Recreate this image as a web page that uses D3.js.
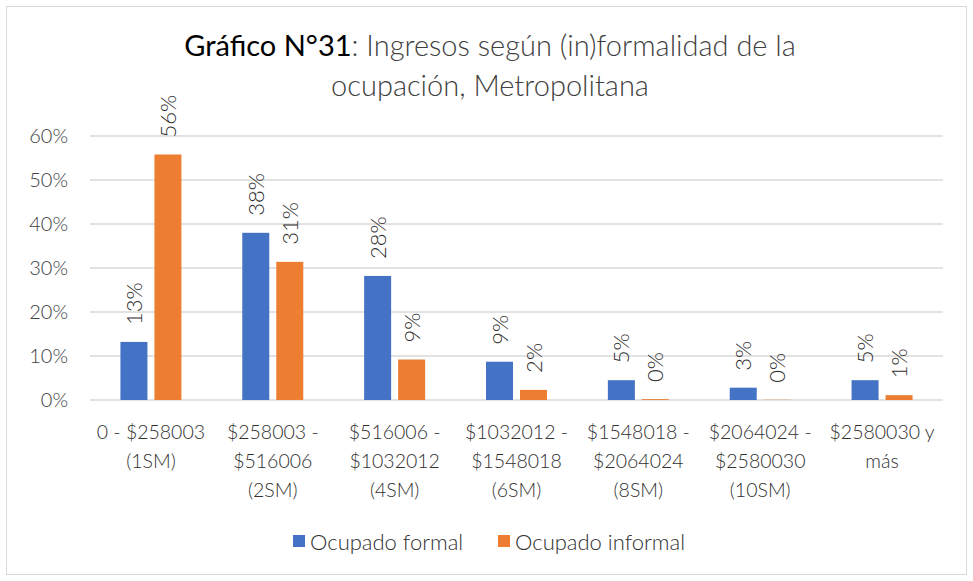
<!DOCTYPE html>
<html>
<head>
<meta charset="utf-8">
<script src="https://cdn.jsdelivr.net/npm/d3@7"></script>
<style>
  body { margin: 0; background: #fff; }
  text { font-family: Lato, "Open Sans", sans-serif; }
</style>
</head>
<body>
<svg id="chart" width="973" height="581"></svg>
<script>
// categories (two or three lines each)
var categories = [
  ["0 - $258003", "(1SM)"],
  ["$258003 -", "$516006", "(2SM)"],
  ["$516006 -", "$1032012", "(4SM)"],
  ["$1032012 -", "$1548018", "(6SM)"],
  ["$1548018 -", "$2064024", "(8SM)"],
  ["$2064024 -", "$2580030", "(10SM)"],
  ["$2580030 y", "más"]
];
var seriesNames = ["Ocupado formal", "Ocupado informal"];
var formal = [0.132, 0.380, 0.282, 0.087, 0.045, 0.028, 0.045];
var informal = [0.558, 0.314, 0.092, 0.023, 0.002, 0.0005, 0.011];
var yTicks = [0, 0.1, 0.2, 0.3, 0.4, 0.5, 0.6];
var colors = ["#4472C4", "#ED7D31"];

var svg = d3.select("#chart");

// border
svg.append("rect")
  .attr("x", 6.5).attr("y", 6.5)
  .attr("width", 960).attr("height", 568)
  .attr("fill", "none").attr("stroke", "#d9d9d9");

var plotLeft = 90, plotRight = 943, plotTop = 136, plotBottom = 400;

var x = d3.scaleBand()
  .domain(d3.range(categories.length))
  .range([plotLeft, plotRight]);

var y = d3.scaleLinear().domain([0, 0.6]).range([plotBottom, plotTop]);

// grid
svg.append("g").selectAll("line")
  .data(yTicks)
  .enter()
  .append("line")
  .attr("x1", plotLeft).attr("x2", plotRight)
  .attr("y1", function(d) { return y(d); })
  .attr("y2", function(d) { return y(d); })
  .attr("stroke", "#d9d9d9")
  .attr("stroke-width", 1.3);

// y axis labels
var yAxis = d3.axisLeft(y).tickValues(yTicks).tickFormat(d3.format(".0%")).tickSize(0).tickPadding(22);
var ya = svg.append("g").attr("transform", "translate(" + plotLeft + ",0)").call(yAxis);
ya.select(".domain").remove();
ya.selectAll("text").attr("font-size", 20).attr("fill", "#404040")
  .style("font-family", "Lato, 'Open Sans', sans-serif").style("font-weight", 300);

var barW = 27, gap = 7;
var series = [formal, informal];

series.forEach(function(vals, s) {
  var g = svg.append("g");
  g.selectAll("rect")
    .data(vals)
    .enter()
    .append("rect")
    .attr("x", function(d, i) {
      var c = x(i) + x.bandwidth() / 2;
      return s === 0 ? c - gap / 2 - barW : c + gap / 2;
    })
    .attr("y", function(d) { return y(d); })
    .attr("width", barW)
    .attr("height", function(d) { return plotBottom - y(d); })
    .attr("fill", colors[s]);

  g.selectAll("text")
    .data(vals)
    .enter()
    .append("text")
    .attr("transform", function(d, i) {
      var c = x(i) + x.bandwidth() / 2;
      var cx = s === 0 ? c - gap / 2 - barW / 2 : c + gap / 2 + barW / 2;
      return "translate(" + (cx + 8) + "," + (y(d) - 17) + ") rotate(-90)";
    })
    .attr("font-size", 22)
    .attr("font-weight", 300)
    .attr("fill", "#303030")
    .text(function(d) { return d3.format(".0%")(d); });
});

// category labels
var cat = svg.append("g").selectAll("text")
  .data(categories)
  .enter()
  .append("text")
  .attr("text-anchor", "middle")
  .attr("font-size", 19.5)
  .attr("font-weight", 300)
  .attr("fill", "#303030")
  .attr("x", function(d, i) { return x(i) + x.bandwidth() / 2; })
  .attr("y", 439);
cat.selectAll("tspan")
  .data(function(d) { return d; })
  .enter()
  .append("tspan")
  .attr("x", function() { return d3.select(this.parentNode).attr("x"); })
  .attr("dy", function(d, i) { return i === 0 ? 0 : 29; })
  .text(function(d) { return d; });

// title
var title = svg.append("text")
  .attr("text-anchor", "middle")
  .attr("x", 490).attr("y", 56)
  .attr("font-size", 29)
  .attr("fill", "#404040");
title.append("tspan").attr("fill", "#000").text("Gráfico N°31");
title.append("tspan").attr("font-weight", 300).text(": Ingresos según (in)formalidad de la");
svg.append("text")
  .attr("text-anchor", "middle")
  .attr("x", 490).attr("y", 96)
  .attr("font-size", 29)
  .attr("font-weight", 300)
  .attr("fill", "#404040")
  .text("ocupación, Metropolitana");

// legend
var legendX = [293, 498];
var legend = svg.append("g");
legend.selectAll("rect")
  .data(seriesNames)
  .enter()
  .append("rect")
  .attr("x", function(d, i) { return legendX[i]; })
  .attr("y", 535)
  .attr("width", 12).attr("height", 12)
  .attr("fill", function(d, i) { return colors[i]; });
legend.selectAll("text")
  .data(seriesNames)
  .enter()
  .append("text")
  .attr("x", function(d, i) { return legendX[i] + 17; })
  .attr("y", 550)
  .attr("font-size", 22)
  .attr("font-weight", 300)
  .attr("fill", "#303030")
  .text(function(d) { return d; });
</script>
</body>
</html>
